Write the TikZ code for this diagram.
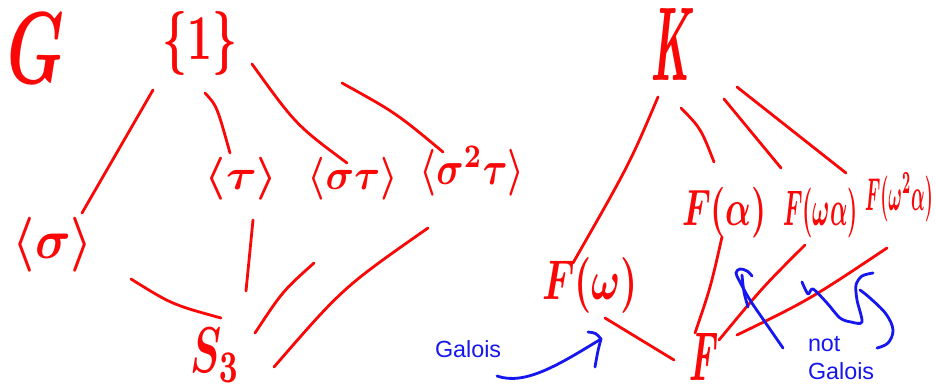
\documentclass[tikz,border=0pt]{standalone}
\usepackage{graphicx}
\usepackage{fontspec}
\newfontfamily\notefont{Liberation Sans}
\definecolor{pen}{RGB}{250,8,8}
\definecolor{bpen}{RGB}{22,22,238}
\newlength\pxu
\setlength\pxu{0.75pt}
\newcommand\hw[3]{\resizebox*{#1\pxu}{#2\pxu}{\boldmath$#3$}}
\newcommand\hwt[3]{\resizebox*{#1\pxu}{#2\pxu}{\bfseries #3}}
\tikzset{
  lab/.style={inner sep=0pt, outer sep=0pt, text=pen},
  conn/.style={draw=pen, line width=2.1pt, line cap=round, line join=round},
  bconn/.style={draw=bpen, line width=2.1pt, line cap=round, line join=round},
  note/.style={inner sep=0pt, outer sep=0pt, text=bpen, font=\notefont\fontsize{17.5pt}{21pt}\selectfont, align=left}
}
\begin{document}
\begin{tikzpicture}[x=0.75pt,y=-0.75pt]
\path[use as bounding box, fill=white] (0,0) rectangle (936,389);
% ---- group side ----
\node[lab] (G)    at (36.5,48)   {\hw{57}{70}{G}};
\node[lab] (one)  at (199.5,43)  {\hwt{75}{64}{\{1\}}};
\node[lab] (sig)  at (53,244.5)  {\hw{80}{55}{\langle\sigma\rangle}};
\node[lab] (tau)  at (241.5,178.5) {\hw{73}{43}{\langle\tau\rangle}};
\node[lab] (st)   at (353,178.5) {\hw{90}{43}{\langle\sigma\tau\rangle}};
\node[lab] (sst)  at (472,171)   {\hw{105}{50}{\langle\sigma^2\tau\rangle}};
\node[lab] (S)    at (215,355) {\hw{50}{54}{S_3}};
% ---- field side ----
\node[lab] (K)    at (671.5,44)  {\hwt{43}{72}{\itshape K\/}};
\node[lab] (Fa)   at (724.5,212.5) {\hw{85}{51}{F(\alpha)}};
\node[lab] (Fwa)  at (820.5,213) {\hw{75}{50}{F(\omega\alpha)}};
\node[lab] (Fwwa) at (899,197.5) {\hw{68}{49}{F(\omega^2\alpha)}};
\node[lab] (Fw)   at (590,285)   {\hw{96}{56}{F(\omega)}};
\node[lab] (F)    at (702.5,356.5) {\hwt{29}{47}{\itshape F\/}};
% ---- group lattice lines ----
\draw[conn] ([shift={(-46.5,47)}]one.center) -- ([shift={(29,-31.5)}]sig.center);
\draw[conn] ([shift={(5.5,50)}]one.center) .. controls (216.8,105.7) .. ([shift={(-11.5,-25.5)}]tau.center);
\draw[conn] ([shift={(52.5,21)}]one.center) .. controls (296,125) .. ([shift={(-6,-15.5)}]st.center);
\draw[conn] ([shift={(142.5,40)}]one.center) .. controls (395.8,112.8) .. ([shift={(-29,-19)}]sst.center);
\draw[conn] ([shift={(78,34.5)}]sig.center) .. controls (172,304.5) .. ([shift={(6,-37)}]S.center);
\draw[conn] ([shift={(11.5,41.5)}]tau.center) -- ([shift={(31,-64)}]S.center);
\draw[conn] ([shift={(-39,84.5)}]st.center) .. controls (282.5,291.3) .. ([shift={(40,-22)}]S.center);
\draw[conn] ([shift={(-44,57)}]sst.center) .. controls (343,287.5) .. ([shift={(59,12)}]S.center);
% ---- field lattice lines ----
\draw[conn] ([shift={(-13.5,53)}]K.center) .. controls (629.5,164) .. ([shift={(-17,-22)}]Fw.center);
\draw[conn] ([shift={(9.5,64)}]K.center) .. controls (700.8,128.3) .. ([shift={(-10.5,-50.5)}]Fa.center);
\draw[conn] ([shift={(52.5,55)}]K.center) -- ([shift={(-39.5,-45)}]Fwa.center);
\draw[conn] ([shift={(65.5,43)}]K.center) -- ([shift={(-53,-24.5)}]Fwwa.center);
\draw[conn] ([shift={(15,33)}]Fw.center) -- ([shift={(-28.5,3.5)}]F.center);
\draw[conn] ([shift={(-2.5,24.5)}]Fa.center) .. controls (710.5,287.7) .. ([shift={(-7.5,-23.5)}]F.center);
\draw[conn] ([shift={(-15.5,32)}]Fwa.center) .. controls (763.3,286.5) .. ([shift={(16.5,-16.5)}]F.center);
\draw[conn] ([shift={(-12,50.5)}]Fwwa.center) .. controls (809,300) .. ([shift={(34.5,-21.5)}]F.center);
% ---- notes ----
\node[note, anchor=base west] (gal) at (435,357) {Galois};
\node[note, anchor=north west] (ngal) at (808,336) {not\\Galois};
\coordinate (gtail) at (497,376);
\coordinate (ghead) at (601,339);
\draw[bconn] (gtail) .. controls (525,386) and (560,364) .. (ghead);
\draw[bconn] (588,332) .. controls (596,333) .. (ghead) .. controls (598,350) .. (595,367);
\draw[bconn] plot[smooth, tension=0.6] coordinates {(783,348) (765,322) (750,300) (740,282) (736,273) (740,269) (747,271) (752,276)};
\draw[bconn] plot[smooth, tension=0.6] coordinates {(742,275) (744,292) (748,307)};
\draw[bconn] plot[smooth, tension=0.5] coordinates {(802,282) (808,294) (813,289) (827,303) (840,318) (851,322) (862,322) (857,300) (856,285) (862,276) (873,273)};
\draw[bconn] plot[smooth, tension=0.6] coordinates {(860,290) (870,298) (886,314) (893,330) (888,343) (877,348)};
\end{tikzpicture}
\end{document}
